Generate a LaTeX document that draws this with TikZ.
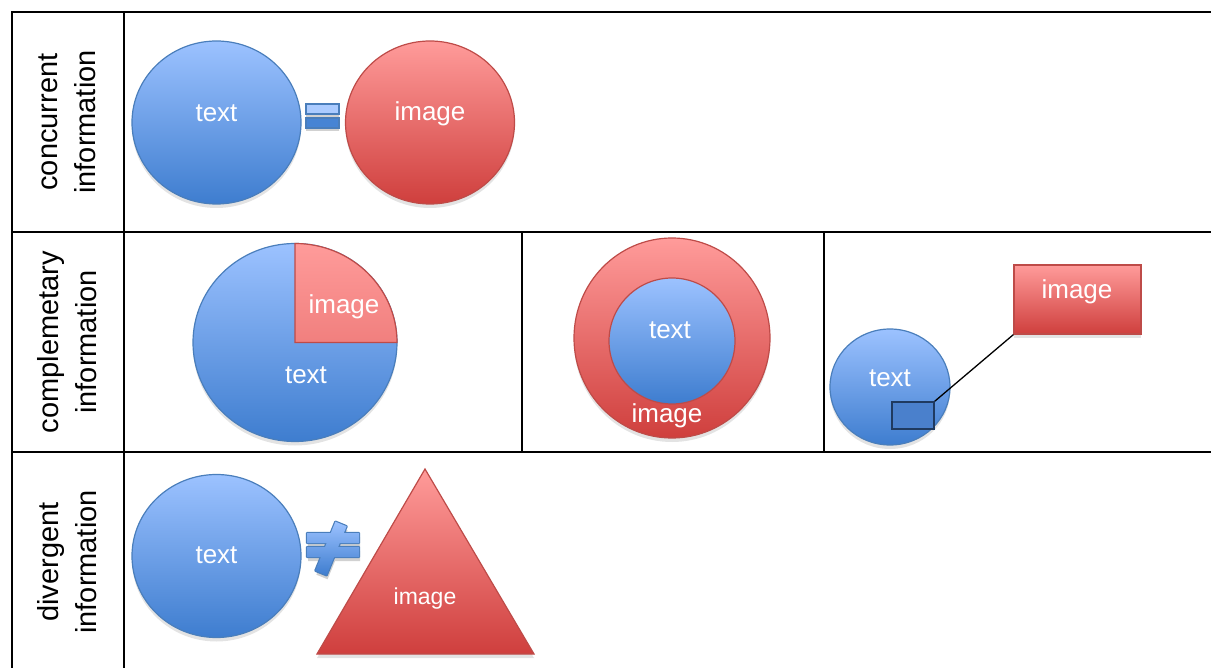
\documentclass[tikz,border=0pt]{standalone}
\usepackage{fontspec}
\setmainfont{Liberation Sans}
\usetikzlibrary{shadows,shapes.geometric}
\definecolor{bluetop}{HTML}{9CC2FF}
\definecolor{bluebot}{HTML}{3E7DCF}
\definecolor{blueedge}{HTML}{4A7EBB}
\definecolor{redtop}{HTML}{FF9B9A}
\definecolor{redbot}{HTML}{CF3F3D}
\definecolor{rededge}{HTML}{BE4B48}
\definecolor{selbox}{HTML}{4A80CC}
\definecolor{seledge}{HTML}{1F3A60}
\tikzset{
  grid/.style={line width=2pt, black},
  shad/.style={drop shadow={opacity=0.22, shadow xshift=0pt, shadow yshift=-4pt}},
  bluefill/.style={top color=bluetop, bottom color=bluebot, draw=blueedge, line width=1.2pt},
  redfill/.style={top color=redtop, bottom color=redbot, draw=rededge, line width=1.2pt},
  bluecirc/.style={ellipse, inner sep=0pt, bluefill, shad},
  redcirc/.style={ellipse, inner sep=0pt, redfill, shad},
  wlabel/.style={text=white, font=\fontsize{26}{30}\selectfont, inner sep=0pt},
  rowlabel/.style={rotate=90, align=center, font=\fontsize{29}{38}\selectfont, inner sep=0pt}
}
\begin{document}
\begin{tikzpicture}[x=1pt,y=-1pt]
\useasboundingbox (0,0) rectangle (1211,668);
% table
\draw[grid] (12,668) -- (12,12) -- (1212,12);
\draw[grid] (124,12) -- (124,668);
\draw[grid] (12,232) -- (1212,232);
\draw[grid] (12,452) -- (1212,452);
\draw[grid] (522,232) -- (522,452);
\draw[grid] (824,232) -- (824,452);
% row labels
\node[rowlabel] (lab1) at (67,122) {concurrent\\information};
\node[rowlabel] (lab2) at (67,342) {complemetary\\information};
\node[rowlabel] (lab3) at (67,562) {divergent\\information};
% row 1: concurrent
\node[bluecirc, minimum width=169pt, minimum height=163pt] (c1) at (216.5,122.5) {};
\node[redcirc, minimum width=169pt, minimum height=163pt] (c2) at (430,122.5) {};
\node[wlabel] (c1t) at (216.5,113) {text};
\node[wlabel] (c2t) at (430,114) {image};
% equals sign
\fill[black, opacity=0.18] (306,107) rectangle (339,117) (306,121) rectangle (339,131);
\draw[blueedge, line width=1.2pt, fill=bluetop!85!white] (306,104) rectangle (339,114);
\draw[blueedge, line width=1.2pt, fill=bluebot!90!bluetop] (306,118) rectangle (339,128);
% row 2: pie
\path[shad, fill=white] (295,342.5) ellipse[x radius=102, y radius=99];
\shade[bluefill] (295,342.5) ellipse[x radius=102, y radius=99];
\shade[top color=redtop, bottom color=redtop!70!redbot, draw=rededge, line width=1.2pt]
  (295,342.5) -- (295,243.5) arc[start angle=-90, end angle=0, x radius=102, y radius=99] -- cycle;
\node[wlabel] (pimg) at (344,307) {image};
\node[wlabel] (ptxt) at (306,375) {text};
% ring
\node[redcirc, minimum width=196pt, minimum height=200pt] (ring) at (672,338) {};
\node[ellipse, inner sep=0pt, top color=bluetop, bottom color=bluebot, draw=rededge, line width=1.2pt,
  minimum width=126pt, minimum height=126pt] (core) at (672,341) {};
\node[wlabel] (ctxt) at (670,330) {text};
\node[wlabel] (rimg) at (667,416) {image};
% callout
\node[bluecirc, minimum width=120pt, minimum height=116pt] (sc) at (890,387) {};
\node[wlabel] (sctxt) at (890,378) {text};
\node[rectangle, draw=seledge, fill=selbox, line width=1.5pt, minimum width=42pt, minimum height=27pt, inner sep=0pt] (sel) at (913,415.5) {};
\node[rectangle, redfill, shad, minimum width=127pt, minimum height=69pt, inner sep=0pt] (imgbox) at (1077.5,299.5) {};
\node[wlabel] (imgboxt) at (1077,292) {image};
\draw[black, line width=1.3pt] (sel.north east) -- (imgbox.south west);
% row 3: divergent
\node[bluecirc, minimum width=169pt, minimum height=163pt] (d1) at (216.5,556) {};
\node[wlabel] (d1t) at (216.5,555) {text};
\coordinate (ta) at (425,469);
\coordinate (tb) at (317,654);
\coordinate (tc) at (534,654);
\shade[redfill, shad] (ta) -- (tc) -- (tb) -- cycle;
\node[wlabel, font=\fontsize{23}{27}\selectfont] (timg) at (425,599) {image};
% not-equal sign
\fill[black, opacity=0.18, shift={(1pt,-4pt)}]
  (307,533) -- (359,533) -- (359,543) -- (307,543) -- cycle
  (307,547) -- (359,547) -- (359,557) -- (307,557) -- cycle
  (335.4,521.7) -- (346.6,526.3) -- (326.6,575.3) -- (315.4,570.7) -- cycle;
\draw[blueedge, line width=2.4pt, line join=round]
  (307,533) -- (359,533) -- (359,543) -- (307,543) -- cycle
  (307,547) -- (359,547) -- (359,557) -- (307,557) -- cycle
  (335.4,521.7) -- (346.6,526.3) -- (326.6,575.3) -- (315.4,570.7) -- cycle;
\shade[top color=bluetop, bottom color=bluebot]
  (307,533) -- (359,533) -- (359,543) -- (307,543) -- cycle
  (307,547) -- (359,547) -- (359,557) -- (307,557) -- cycle
  (335.4,521.7) -- (346.6,526.3) -- (326.6,575.3) -- (315.4,570.7) -- cycle;
\end{tikzpicture}
\end{document}
